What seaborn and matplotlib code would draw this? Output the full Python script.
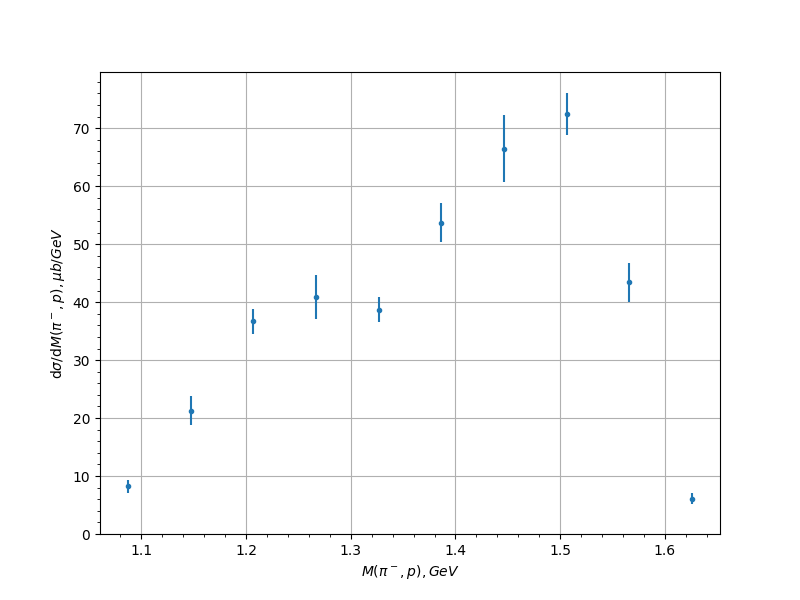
import numpy as np
import pandas as pd
import matplotlib
matplotlib.use('Agg')
import matplotlib.pyplot as plt
import seaborn as sns

# invariant mass bin centres (GeV) and cross section (mub/GeV)
mass = [1.0875, 1.1473, 1.2071, 1.2669, 1.3267, 1.3865, 1.4463, 1.5061, 1.5659, 1.6257]
xsec = [8.2, 21.3, 36.7, 40.9, 38.7, 53.7, 66.5, 72.4, 43.4, 6.1]
xsec_err = [1.2, 2.5, 2.2, 3.75, 2.2, 3.4, 5.75, 3.6, 3.4, 1.0]

df = pd.DataFrame({'mass': mass, 'xsec': xsec, 'err': xsec_err})

fig, ax = plt.subplots(figsize=(8, 6), dpi=100)
ax.errorbar(df['mass'], df['xsec'], yerr=df['err'], fmt='none', ecolor='#1f77b4', elinewidth=1.5)
sns.scatterplot(data=df, x='mass', y='xsec', ax=ax, marker='.', s=36,
                color='#1f77b4', edgecolor='#1f77b4', linewidth=1, zorder=3)

ax.set_ylim(0, 79.7)
ax.minorticks_on()
ax.grid(True, which='major')
ax.set_axisbelow(True)
ax.set_xlabel(r'$M(\pi^-, p), GeV$')
ax.set_ylabel(r'd$\sigma$/d$M(\pi^-, p), \mu b/GeV$')

fig.savefig('out.png', dpi=100)
